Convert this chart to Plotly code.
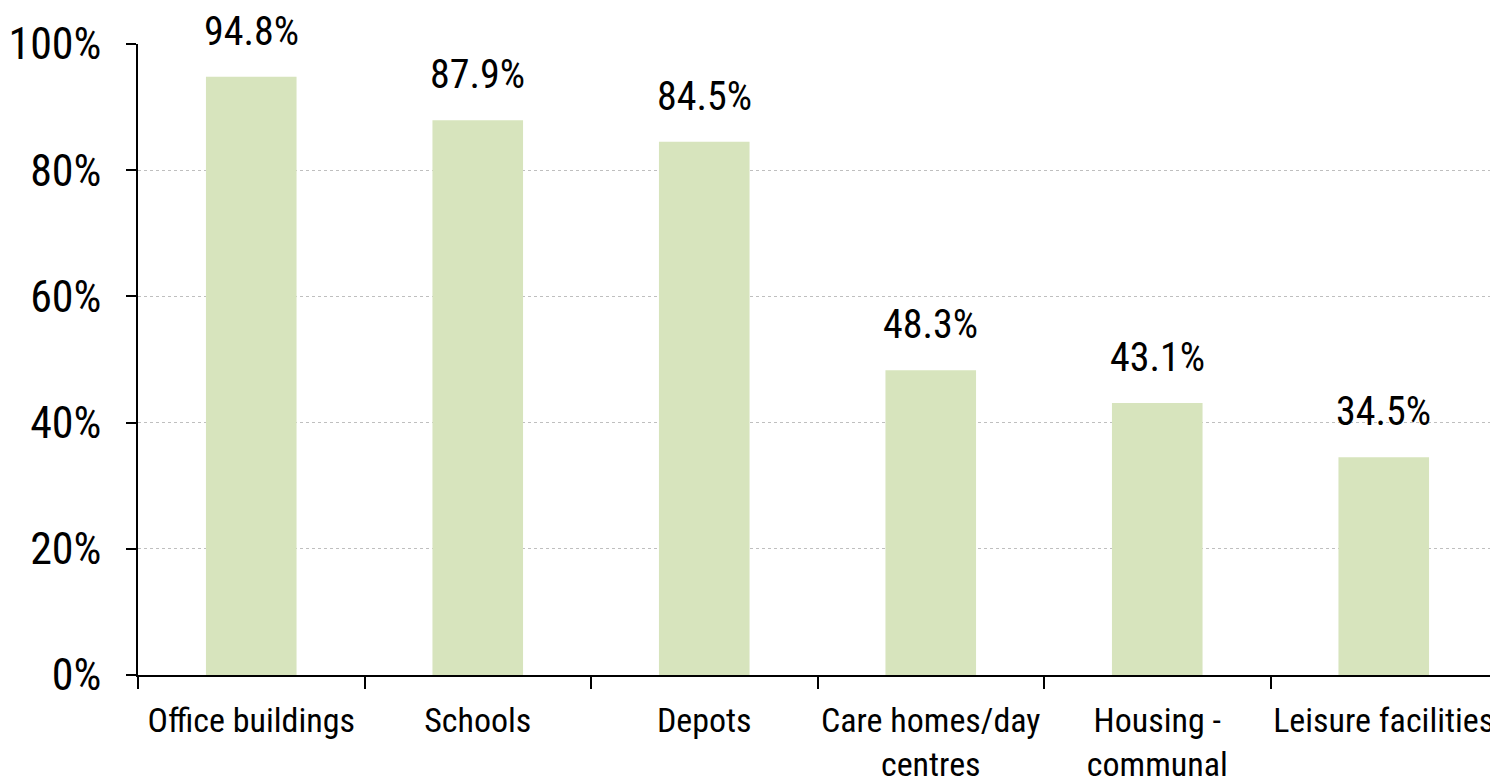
import plotly.graph_objects as go

categories = ["Office buildings", "Schools", "Depots", "Care homes/day<br>centres", "Housing -<br>communal", "Leisure facilities"]
values = [94.8, 87.9, 84.5, 48.3, 43.1, 34.5]
labels = ["94.8%", "87.9%", "84.5%", "48.3%", "43.1%", "34.5%"]
y_ticks = [0, 20, 40, 60, 80, 100]
y_tick_text = ["0%", "20%", "40%", "60%", "80%", "100%"]

FONT = "Liberation Sans Narrow, Roboto Condensed, Arial Narrow, sans-serif"

fig = go.Figure()
fig.add_trace(go.Bar(
    x=categories, y=values,
    marker=dict(color="#d7e4bd", line=dict(width=0)),
    width=0.4,
    hoverinfo="skip",
))

for c, v, t in zip(categories, values, labels):
    fig.add_annotation(x=c, y=v, text=t, showarrow=False, yanchor="bottom",
                       yshift=20, font=dict(family=FONT, size=40, color="#000000"))

fig.update_layout(
    width=1490, height=773,
    margin=dict(l=130, r=1, t=36, b=106),
    plot_bgcolor="white", paper_bgcolor="white",
    showlegend=False,
    font=dict(family=FONT, size=34, color="#000000"),
    xaxis=dict(
        automargin=False,
        tickangle=0,
        showline=True, linecolor="#000000", linewidth=1.5,
        ticks="outside", ticklen=12, tickcolor="#000000", tickwidth=1.5,
        tickson="boundaries", showgrid=False,
        ticklabelstandoff=14,
        tickfont=dict(family=FONT, size=34, color="#000000"),
    ),
    yaxis=dict(
        automargin=False,
        range=[0, 100], tickvals=y_ticks, ticktext=y_tick_text,
        showline=True, linecolor="#000000", linewidth=1.5,
        ticks="outside", ticklen=10, tickcolor="#000000", tickwidth=1.5,
        showgrid=True, gridcolor="#bfbfbf", griddash="dot", gridwidth=1,
        zeroline=False,
        ticklabelstandoff=16,
        tickfont=dict(family=FONT, size=44, color="#000000"),
    ),
)

fig.write_html("out.html")
